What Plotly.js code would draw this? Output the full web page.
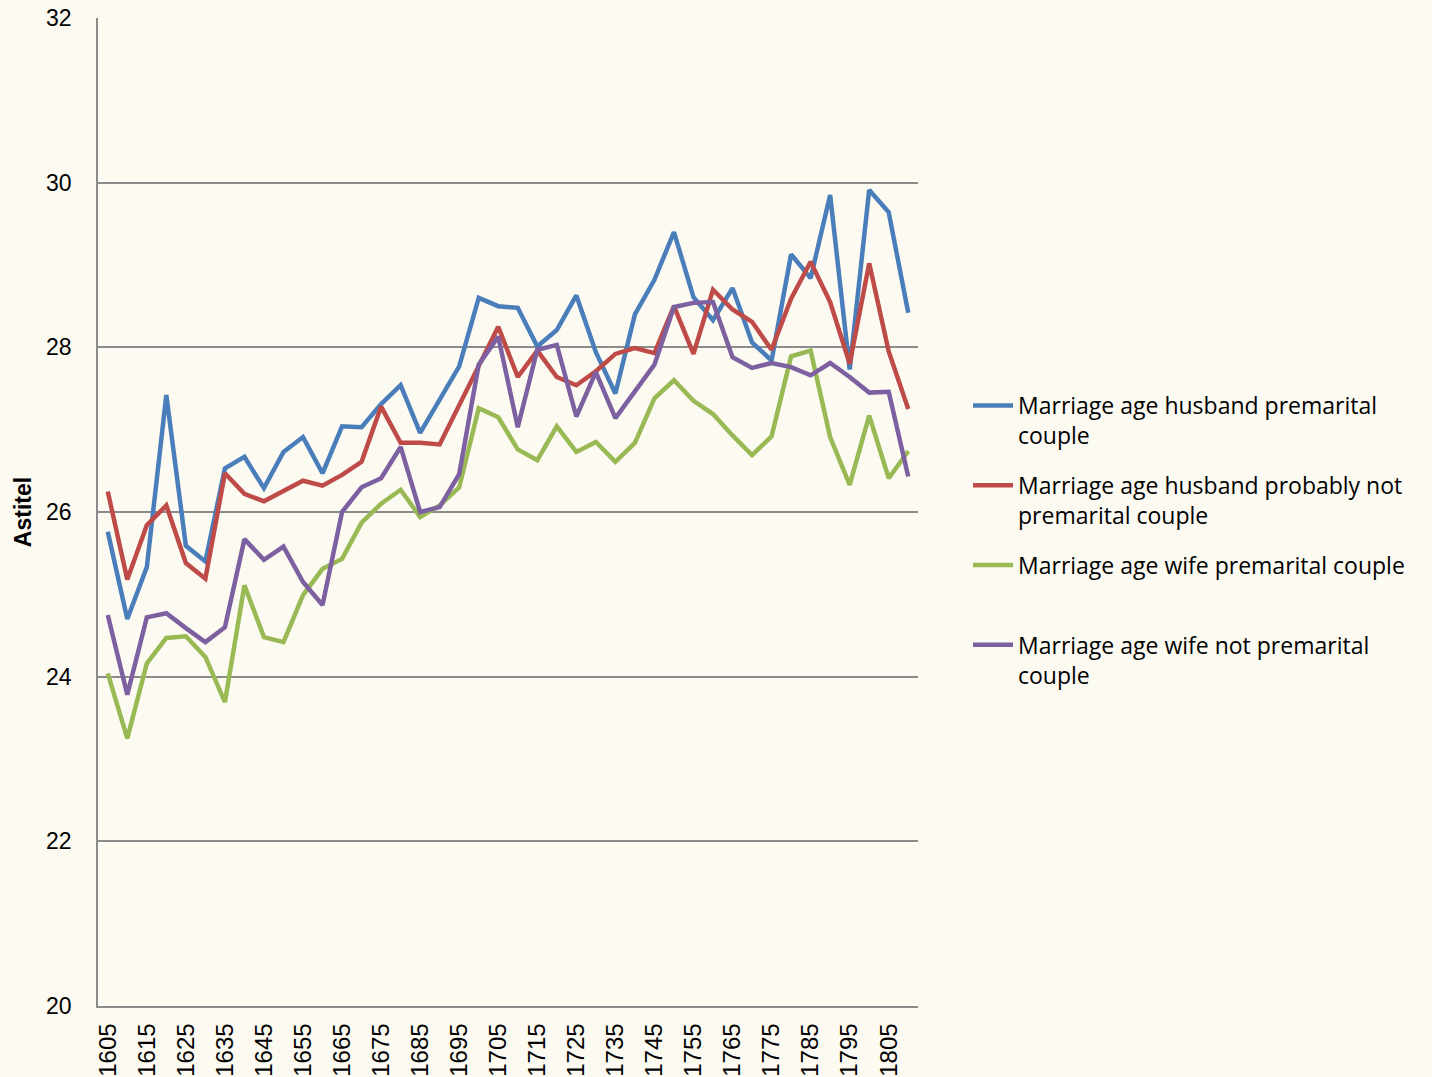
<!DOCTYPE html>
<html>
<head>
<meta charset="utf-8">
<script src="https://cdn.plot.ly/plotly-3.0.1.min.js"></script>
<style>
html,body{margin:0;padding:0;background:#fdfaf2;}
#chart{width:1432px;height:1077px;}
</style>
</head>
<body>
<div id="chart"></div>
<script>
const years = [1605,1610,1615,1620,1625,1630,1635,1640,1645,1650,1655,1660,1665,1670,1675,1680,1685,1690,1695,1700,1705,1710,1715,1720,1725,1730,1735,1740,1745,1750,1755,1760,1765,1770,1775,1780,1785,1790,1795,1800,1805,1810];
const tickYears = [1605,1615,1625,1635,1645,1655,1665,1675,1685,1695,1705,1715,1725,1735,1745,1755,1765,1775,1785,1795,1805];

const husbandPremarital = [25.76,24.70,25.33,27.42,25.59,25.40,26.53,26.67,26.29,26.73,26.91,26.47,27.04,27.03,27.31,27.54,26.96,27.37,27.77,28.60,28.50,28.48,28.01,28.21,28.63,27.94,27.44,28.40,28.82,29.40,28.61,28.33,28.72,28.06,27.84,29.13,28.84,29.85,27.73,29.91,29.64,28.42];
const husbandNotPremarital = [26.25,25.18,25.84,26.08,25.38,25.19,26.47,26.22,26.13,26.26,26.38,26.32,26.45,26.61,27.28,26.84,26.84,26.82,27.30,27.78,28.25,27.64,27.96,27.64,27.54,27.71,27.92,27.99,27.93,28.50,27.92,28.70,28.46,28.31,27.97,28.59,29.04,28.55,27.80,29.02,27.95,27.25];
const wifePremarital = [24.04,23.25,24.16,24.47,24.49,24.24,23.69,25.11,24.48,24.42,24.99,25.31,25.43,25.87,26.10,26.27,25.94,26.08,26.30,27.26,27.15,26.76,26.63,27.04,26.73,26.85,26.61,26.84,27.38,27.60,27.35,27.19,26.93,26.69,26.92,27.89,27.96,26.91,26.33,27.17,26.41,26.74];
const wifeNotPremarital = [24.75,23.78,24.72,24.77,24.59,24.42,24.60,25.67,25.42,25.58,25.15,24.87,26.00,26.30,26.41,26.79,26.00,26.06,26.46,27.79,28.13,27.03,27.97,28.03,27.16,27.70,27.14,27.46,27.79,28.49,28.54,28.55,27.88,27.75,27.81,27.76,27.66,27.81,27.64,27.45,27.46,26.43];

const names = [
  "Marriage age husband premarital<br>couple",
  "Marriage age husband probably not<br>premarital couple",
  "Marriage age wife premarital couple<br> ",
  "Marriage age wife not premarital<br>couple"
];
const colors = ["#4a7ebb","#be4b48","#98b954","#7d60a0"];
const series = [husbandPremarital, husbandNotPremarital, wifePremarital, wifeNotPremarital];

const traces = series.map((s,i)=>({
  x: years, y: s, type:'scatter', mode:'lines', name: names[i], legendgroup:'g'+i,
  line:{color:colors[i], width:4.5}
}));

const layout = {
  width:1432, height:1077,
  paper_bgcolor:'#fdfaf2', plot_bgcolor:'#fdfaf2',
  margin:{l:98, r:514, t:18, b:71},
  font:{family:'"Liberation Sans", sans-serif', color:'#000'},
  showlegend:true,
  legend:{
    x:1.061, xanchor:'left', y:0.6296, yanchor:'top',
    font:{family:'"Open Sans", sans-serif', size:23, color:'#000'},
    bgcolor:'rgba(0,0,0,0)', valign:'top', tracegroupgap:17, itemwidth:40
  },
  xaxis:{
    range:[1602.5,1812.5], tickmode:'array', tickvals:tickYears, ticktext:tickYears.map(String),
    tickangle:-90, showgrid:false, zeroline:false, showline:true, linecolor:'#8c8c8c', linewidth:1.5,
    ticks:'', ticklabelstandoff:6,
    tickfont:{family:'"Liberation Sans", sans-serif', size:24, color:'#000'}
  },
  yaxis:{
    range:[20,32], dtick:2, tick0:20, showgrid:true, gridcolor:'#8c8c8c', gridwidth:1.5,
    zeroline:false, showline:true, linecolor:'#8c8c8c', linewidth:1.5, ticks:'',
    ticklabelstandoff:20,
    tickfont:{family:'"Liberation Sans Narrow", "Liberation Sans", sans-serif', size:23, color:'#000'},
    title:{text:'<b>Astitel</b>', font:{family:'"Liberation Sans", sans-serif', size:23, color:'#000'}, standoff:8}
  }
};

Plotly.newPlot('chart', traces, layout, {displayModeBar:false});
</script>
</body>
</html>
